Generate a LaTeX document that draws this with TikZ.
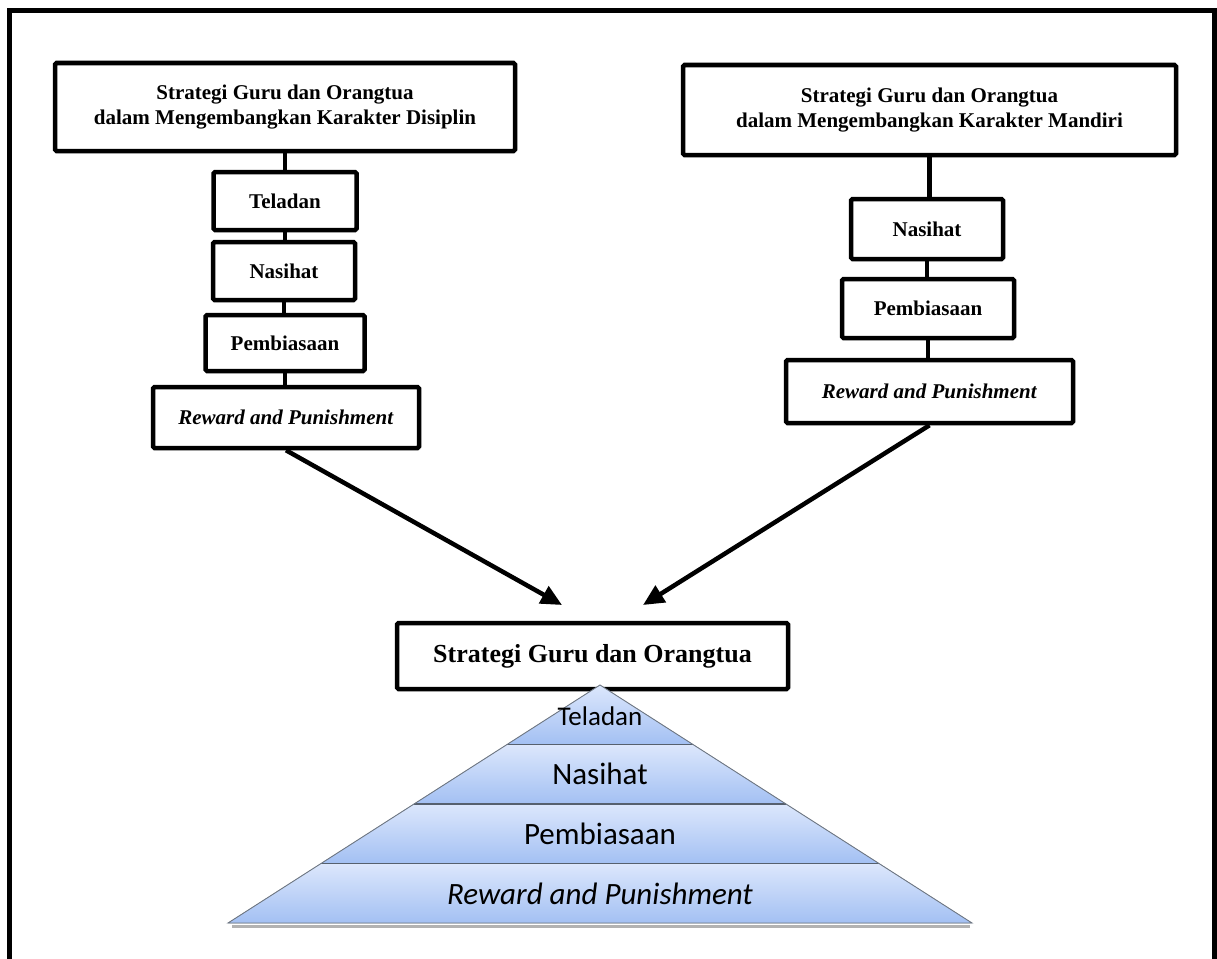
\documentclass[tikz,border=0pt]{standalone}
\usepackage{fontspec}
\setmainfont{Liberation Serif}
\newfontfamily\pyrfont{Carlito}
\usepackage{xcolor}
\usetikzlibrary{positioning,arrows.meta,calc,shadows}
\definecolor{pyrtop}{HTML}{DCE7FC}
\definecolor{pyrbot}{HTML}{A3C0F3}
\definecolor{pyredge}{HTML}{56606E}

\begin{document}
\begin{tikzpicture}[
  x=1pt, y=-1pt,
  >={Triangle[length=21pt,width=19pt]},
  box/.style={draw, line width=4.5pt, rounded corners=1.5pt, fill=white, align=center, inner sep=2pt,
    font=\bfseries\fontsize{21}{25}\selectfont,
    drop shadow={shadow xshift=2pt, shadow yshift=-2pt, opacity=0.25}},
  link/.style={line width=4.5pt},
  arr/.style={line width=4.5pt, ->},
  layer/.style={top color=pyrtop, bottom color=pyrbot},
  tier/.style={font=\pyrfont\fontsize{31}{36}\selectfont, inner sep=0pt}
]
  \useasboundingbox (0,0) rectangle (1217,958);

  % Frame (open at the bottom)
  \draw[line width=5.5pt] (9.5,965) -- (9.5,10.5) -- (1214.5,10.5) -- (1214.5,965);

  % Left column: Disiplin
  \node[box, minimum width=460pt, minimum height=88pt] (dsL) at (285,107)
    {Strategi Guru dan Orangtua\\dalam Mengembangkan Karakter Disiplin};
  \node[box, minimum width=143pt, minimum height=58pt] (telL) at (285,201) {Teladan};
  \node[box, minimum width=142pt, minimum height=58pt] (nasL) at (284,271) {Nasihat};
  \node[box, minimum width=159pt, minimum height=56pt] (pemL) at (285,343) {Pembiasaan};
  \node[box, minimum width=266pt, minimum height=61pt] (rewL) at (286,417.5) {\textit{Reward and Punishment}};

  % Right column: Mandiri
  \node[box, minimum width=493pt, minimum height=90pt] (mdR) at (929.5,110)
    {Strategi Guru dan Orangtua\\dalam Mengembangkan Karakter Mandiri};
  \node[box, minimum width=152pt, minimum height=60pt] (nasR) at (927,229) {Nasihat};
  \node[box, minimum width=172pt, minimum height=59pt] (pemR) at (928,308.5) {Pembiasaan};
  \node[box, minimum width=287pt, minimum height=63pt] (rewR) at (929.5,391.5) {\textit{Reward and Punishment}};

  % Result
  \node[box, minimum width=391pt, minimum height=66pt, font=\bfseries\fontsize{26}{30}\selectfont] (sg) at (592.5,656)
    {Strategi Guru dan Orangtua};

  % Connectors
  \draw[link] (dsL.south) -- (dsL.south |- telL.north);
  \draw[link] (telL.south) -- (telL.south |- nasL.north);
  \draw[link] (nasL.south) -- (nasL.south |- pemL.north);
  \draw[link] (pemL.south) -- (pemL.south |- rewL.north);
  \draw[link] (mdR.south) -- (mdR.south |- nasR.north);
  \draw[link] (nasR.south) -- (nasR.south |- pemR.north);
  \draw[link] (pemR.south) -- (pemR.south |- rewR.north);

  % Arrows
  \coordinate (tipL) at (562,605);
  \coordinate (tipR) at (643,605);
  \draw[arr] (rewL.south) -- (tipL);
  \draw[arr] (rewR.south) -- (tipR);

  % Pyramid
  \coordinate (apex) at (600,685);
  \coordinate (baseL) at (228,923);
  \coordinate (baseR) at (972,923);
  \draw[black!30, line width=3pt] ($(baseL)+(4,3)$) -- ($(baseR)+(-2,3)$);
  \foreach \a/\b in {0/0.25, 0.25/0.5, 0.5/0.75, 0.75/1} {
    \fill[layer] ($(apex)!\a!(baseL)$) -- ($(apex)!\b!(baseL)$) -- ($(apex)!\b!(baseR)$) -- ($(apex)!\a!(baseR)$) -- cycle;
  }
  \foreach \a in {0.25, 0.5, 0.75}
    \draw[pyredge, line width=1.3pt] ($(apex)!\a!(baseL)$) -- ($(apex)!\a!(baseR)$);
  \draw[pyredge!85, line width=0.9pt] (apex) -- (baseL) -- (baseR) -- cycle;

  \node[tier, font=\pyrfont\fontsize{27}{32}\selectfont] (tel) at (600,716) {Teladan};
  \node[tier] (nas) at (600,774) {Nasihat};
  \node[tier] (pem) at (600,834) {Pembiasaan};
  \node[tier] (rew) at (600,894) {\itshape Reward and Punishment};
\end{tikzpicture}
\end{document}
